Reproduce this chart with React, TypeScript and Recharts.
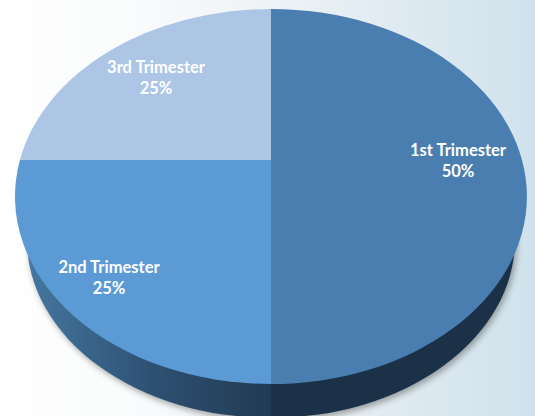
import React from 'react';
import { PieChart, Pie, Cell } from 'recharts';

const trimesters = ['1st Trimester', '2nd Trimester', '3rd Trimester'];
const shares = [50, 25, 25];

const data = trimesters.map((name, i) => ({ name, value: shares[i] }));

const topColors = ['#4a7eb1', '#5c9ad6', '#adc6e5'];
const wallColors = ['#1b3148', 'url(#wallShade)', '#1b3148'];

// label centres per slice, relative to the pie pivot
const labelOffsets = [
  { dx: 187, dy: -4 },
  { dx: -162, dy: 113 },
  { dx: -115, dy: -87 },
];

// the tilted pie is not a circle: slices are cut against these ellipses
const topRim = { cx: 271, cy: 196.5, rx: 256, ry: 187.5 };
const wallRim = { cx: 271, cy: 240, rx: 244, ry: 178 };

const rimPoint = (angle: number, rim: typeof topRim, px: number, py: number) => {
  const a = (angle * Math.PI) / 180;
  const ux = Math.cos(a) / rim.rx;
  const uy = -Math.sin(a) / rim.ry;
  const ox = (px - rim.cx) / rim.rx;
  const oy = (py - rim.cy) / rim.ry;
  const A = ux * ux + uy * uy;
  const B = 2 * (ox * ux + oy * uy);
  const C = ox * ox + oy * oy - 1;
  const t = (-B + Math.sqrt(B * B - 4 * A * C)) / (2 * A);
  return [px + t * Math.cos(a), py - t * Math.sin(a)];
};

const ellipticSlice = (rim: typeof topRim) => (props: any) => {
  const { cx, cy, startAngle, endAngle, fill } = props;
  const [x0, y0] = rimPoint(startAngle, rim, cx, cy);
  const [x1, y1] = rimPoint(endAngle, rim, cx, cy);
  const large = Math.abs(startAngle - endAngle) > 180 ? 1 : 0;
  const d = `M${cx},${cy}L${x0},${y0}A${rim.rx},${rim.ry} 0 ${large} 1 ${x1},${y1}Z`;
  return <path d={d} fill={fill} stroke="none" />;
};

const renderLabel = (props: any) => {
  const { cx, cy, name, percent, index } = props;
  const off = labelOffsets[index];
  const x = cx + off.dx;
  const y = cy + off.dy;
  return (
    <text x={x} y={y} textAnchor="middle" fill="#ffffff" fontFamily="Lato" fontWeight={700} fontSize={16.5}>
      <tspan x={x} dy={0}>{name}</tspan>
      <tspan x={x} dy={21}>{`${(percent * 100).toFixed(0)}%`}</tspan>
    </text>
  );
};

const App = () => {
  return (
    <div
      style={{
        position: 'absolute',
        left: 0,
        top: 0,
        width: 535,
        height: 416,
        overflow: 'hidden',
        background: 'linear-gradient(90deg, #ffffff 0%, #f9fbfc 25%, #eef3f6 50%, #dfeaf1 75%, #cfe2ec 100%)',
      }}
    >
      <style>{`.wall-pie { filter: drop-shadow(2px 3px 3px rgba(60,60,60,0.45)); }`}</style>
      <PieChart width={535} height={416} margin={{ top: 0, right: 0, bottom: 0, left: 0 }}>
        <defs>
          <linearGradient id="wallShade" gradientUnits="userSpaceOnUse" x1={30} y1={0} x2={271} y2={0}>
            <stop offset="0%" stopColor="#44769f" />
            <stop offset="50%" stopColor="#2e5173" />
            <stop offset="100%" stopColor="#213a52" />
          </linearGradient>
        </defs>
        <Pie
          className="wall-pie"
          data={data}
          dataKey="value"
          nameKey="name"
          cx={271}
          cy={240}
          outerRadius={178}
          startAngle={90}
          endAngle={-270}
          stroke="none"
          shape={ellipticSlice(wallRim)}
          isAnimationActive={false}
        >
          {data.map((entry, index) => (
            <Cell key={`wall-${index}`} fill={wallColors[index]} />
          ))}
        </Pie>
        <Pie
          data={data}
          dataKey="value"
          nameKey="name"
          cx={271}
          cy={160}
          outerRadius={187}
          startAngle={90}
          endAngle={-270}
          stroke="none"
          shape={ellipticSlice(topRim)}
          label={renderLabel}
          labelLine={false}
          isAnimationActive={false}
        >
          {data.map((entry, index) => (
            <Cell key={`top-${index}`} fill={topColors[index]} />
          ))}
        </Pie>
      </PieChart>
    </div>
  );
};

export default App;
